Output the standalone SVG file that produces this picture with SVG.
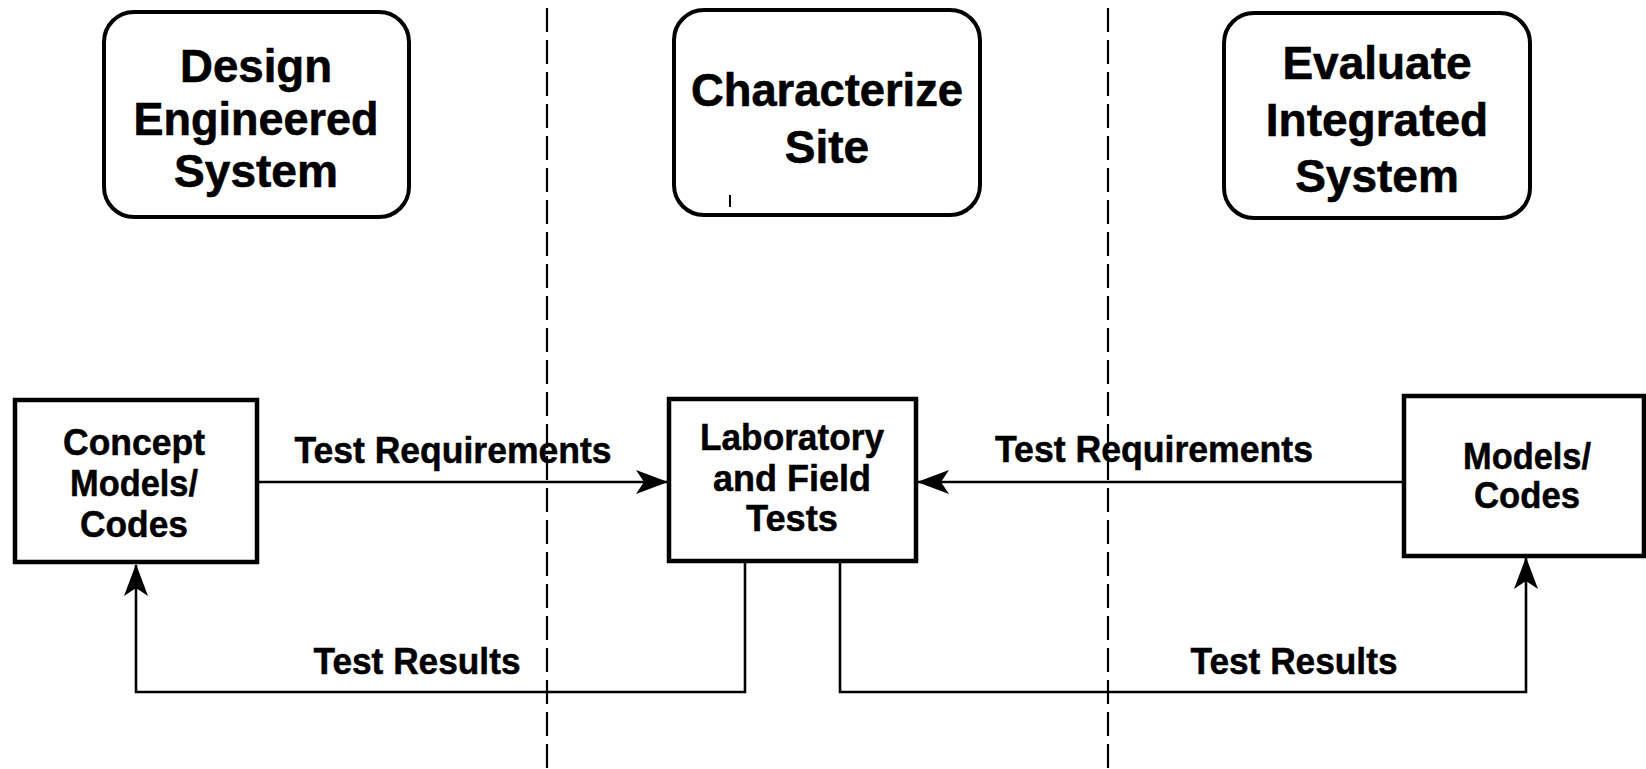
<svg xmlns="http://www.w3.org/2000/svg" width="1646" height="769" viewBox="0 0 1646 769">
<style>
.bg{fill:#fff}
.rbox{fill:#fff;stroke:#000;stroke-width:4}
.sbox{fill:#fff;stroke:#000;stroke-width:4.5}
.title{font-family:"Liberation Sans",Arial,sans-serif;font-weight:bold;font-size:46px;fill:#000;stroke:#000;stroke-width:0.6;text-anchor:middle}
.btxt{font-family:"Liberation Sans",Arial,sans-serif;font-weight:bold;font-size:37px;fill:#000;stroke:#000;stroke-width:0.5;text-anchor:middle}
.lbl{font-family:"Liberation Sans",Arial,sans-serif;font-weight:bold;font-size:37px;fill:#000;stroke:#000;stroke-width:0.5;text-anchor:middle}
.conn{fill:none;stroke:#000;stroke-width:2.6}
.dash{fill:none;stroke:#000;stroke-width:2.2;stroke-dasharray:24 8}
</style>
<defs>
<marker id="arr" viewBox="0 0 32 24" refX="31" refY="12" markerWidth="32" markerHeight="24" markerUnits="userSpaceOnUse" orient="auto">
<path d="M0,0 L32,12 L0,24 L8,12 Z" fill="#000"/>
</marker>
</defs>
<rect class="bg" x="0" y="0" width="1646" height="769"/>
<g id="dividers">
<line class="dash" x1="547" y1="8" x2="547" y2="769"/>
<line class="dash" x1="1108" y1="8" x2="1108" y2="769"/>
</g>
<g id="design">
<rect class="rbox" x="104" y="12" width="305" height="205" rx="30" ry="30"/>
<text class="title" x="256" y="82" textLength="152" lengthAdjust="spacingAndGlyphs">Design</text>
<text class="title" x="256" y="135" textLength="245" lengthAdjust="spacingAndGlyphs">Engineered</text>
<text class="title" x="256" y="187" textLength="164" lengthAdjust="spacingAndGlyphs">System</text>
</g>
<g id="characterize">
<rect class="rbox" x="674" y="10" width="306" height="205" rx="30" ry="30"/>
<text class="title" x="827" y="106" textLength="272" lengthAdjust="spacingAndGlyphs">Characterize</text>
<text class="title" x="827" y="163">Site</text>
<line x1="730" y1="195" x2="730" y2="207" stroke="#000" stroke-width="2"/>
</g>
<g id="evaluate">
<rect class="rbox" x="1224" y="13" width="306" height="205" rx="30" ry="30"/>
<text class="title" x="1377" y="79">Evaluate</text>
<text class="title" x="1377" y="136">Integrated</text>
<text class="title" x="1377" y="192">System</text>
</g>
<g id="concept">
<rect class="sbox" x="15" y="400" width="242" height="162"/>
<text class="btxt" x="134" y="455" textLength="142" lengthAdjust="spacingAndGlyphs">Concept</text>
<text class="btxt" x="134" y="496" textLength="128" lengthAdjust="spacingAndGlyphs">Models/</text>
<text class="btxt" x="134" y="537" textLength="108" lengthAdjust="spacingAndGlyphs">Codes</text>
</g>
<g id="lab">
<rect class="sbox" x="669" y="399" width="247" height="162"/>
<text class="btxt" x="792" y="450" textLength="184" lengthAdjust="spacingAndGlyphs">Laboratory</text>
<text class="btxt" x="792" y="491" textLength="158" lengthAdjust="spacingAndGlyphs">and Field</text>
<text class="btxt" x="792" y="531" textLength="92" lengthAdjust="spacingAndGlyphs">Tests</text>
</g>
<g id="models">
<rect class="sbox" x="1404" y="396" width="240" height="160"/>
<text class="btxt" x="1527" y="469" textLength="128" lengthAdjust="spacingAndGlyphs">Models/</text>
<text class="btxt" x="1527" y="508" textLength="106" lengthAdjust="spacingAndGlyphs">Codes</text>
</g>
<g id="connectors">
<line class="conn" x1="257" y1="482" x2="667" y2="482" marker-end="url(#arr)"/>
<line class="conn" x1="1402" y1="482" x2="918" y2="482" marker-end="url(#arr)"/>
<polyline class="conn" points="745,563 745,692 136,692 136,565" marker-end="url(#arr)"/>
<polyline class="conn" points="840,563 840,692 1526,692 1526,558" marker-end="url(#arr)"/>
</g>
<g id="labels">
<text class="lbl" x="453" y="463" textLength="317" lengthAdjust="spacingAndGlyphs">Test Requirements</text>
<text class="lbl" x="1154" y="462" textLength="318" lengthAdjust="spacingAndGlyphs">Test Requirements</text>
<text class="lbl" x="417" y="674" textLength="207" lengthAdjust="spacingAndGlyphs">Test Results</text>
<text class="lbl" x="1294" y="674" textLength="207" lengthAdjust="spacingAndGlyphs">Test Results</text>
</g>
</svg>
